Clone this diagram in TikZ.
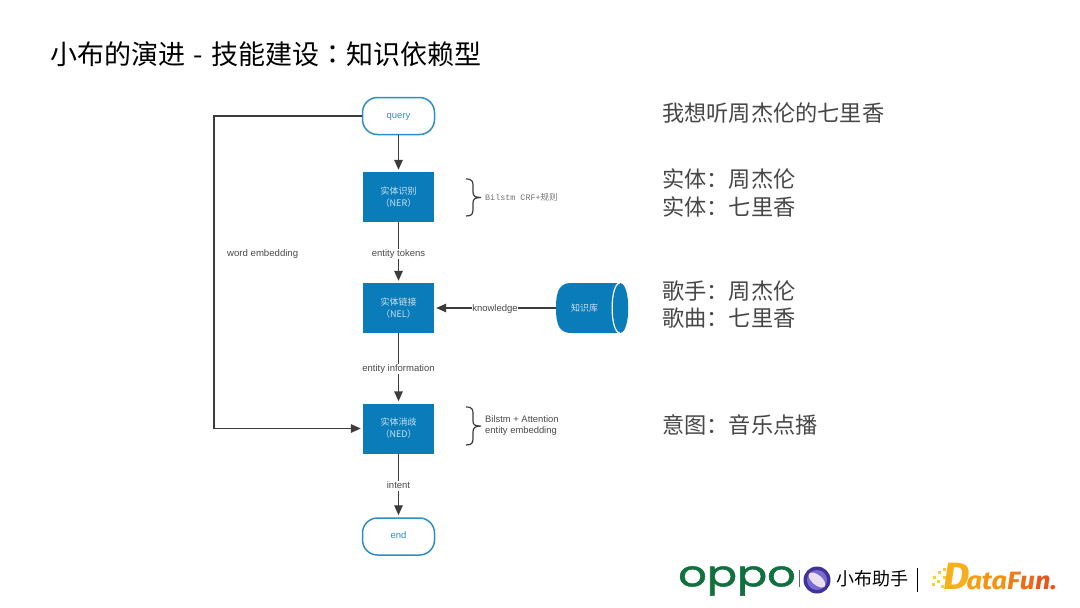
\documentclass[tikz,border=0pt]{standalone}
\usepackage{fontspec}
\setmainfont{Liberation Sans}
\newfontfamily\cjk{Noto Sans CJK SC}
\newfontfamily\cjktc{Noto Sans CJK TC}
\newfontfamily\mono{Liberation Mono}
\newfontfamily\popp[FakeBold=1.2]{Poppins}
\newfontfamily\fira[FakeStretch=1.08]{Fira Sans}
\usetikzlibrary{shapes.geometric,arrows.meta,calc}
\definecolor{bluefill}{HTML}{0A7CBA}
\definecolor{blueline}{HTML}{2E8FC4}
\definecolor{inkline}{HTML}{3C3C3C}
\definecolor{labelgray}{HTML}{4A4A4A}
\definecolor{opgreen}{HTML}{12703F}
\definecolor{xbdark}{HTML}{40329A}
\definecolor{xbmid}{HTML}{7A6BD0}
\definecolor{xbpale}{HTML}{EBDDF2}
\definecolor{dfa}{HTML}{F6B01E}
\definecolor{dfb}{HTML}{F5A011}
\definecolor{dfc}{HTML}{F39312}
\definecolor{dfd}{HTML}{EF7C1C}
\definecolor{dfe}{HTML}{EC6A1E}
\definecolor{dff}{HTML}{E8551F}
\definecolor{dfdot}{HTML}{F8CF3A}
\tikzset{
  x=1pt,y=-1pt,
  terminal/.style={draw=blueline,line width=1.5pt,fill=white,rounded corners=15pt,minimum width=72pt,minimum height=37pt,inner sep=0pt,text=blueline,text height=6.5pt,text depth=2pt,font=\fontsize{9.5}{10}\selectfont},
  process/.style={fill=bluefill,minimum width=71pt,minimum height=50pt,inner sep=0pt,align=center,text=white!78!bluefill,font=\fontsize{9}{12}\selectfont\cjk},
  flow/.style={draw=inkline,line width=1.4pt,-{Triangle[length=10pt,width=8.5pt]},shorten >=2pt},
  flowlabel/.style={fill=white,inner sep=1.5pt,text=labelgray,text height=6pt,text depth=1pt,yshift=-1pt,font=\fontsize{9.5}{10}\selectfont},
  side/.style={text=labelgray,inner sep=0pt,anchor=west,align=left},
  bigtext/.style={text=black!72,inner sep=0pt,anchor=west,font=\fontsize{22.2}{27}\selectfont\cjk},
  bracepath/.style={draw=inkline,line width=1.2pt},
}
\begin{document}
\begin{tikzpicture}
\useasboundingbox (0,0) rectangle (1080,608);
\fill[white] (0,0) rectangle (1080,608);

\node[anchor=west,inner sep=0pt,font=\fontsize{27}{28}\selectfont\cjk] (title) at (50,54) {小布的演进\hspace{8pt}-\hspace{9pt}技能建设{\cjktc ：}知识依赖型};

\node[terminal] (query) at (398.5,116) {query};
\node[process] (ner) at (398.5,197) {实体识别\\（NER）};
\node[process] (nel) at (398.5,308) {实体链接\\（NEL）};
\node[process] (ned) at (398.5,428.5) {实体消歧\\（NED）};
\node[terminal] (end) at (398.5,536.5) {end};

\fill[bluefill] (572,283) -- (620,283) .. controls (631,283) and (631,333) .. (620,333) -- (572,333)
  .. controls (561,333) and (556,328) .. (556,308) .. controls (556,288) and (561,283) .. (572,283) -- cycle;
\draw[white,line width=1.2pt] (620,283) .. controls (609.5,283) and (609.5,333) .. (620,333);
\node[minimum width=72pt,minimum height=50pt,inner sep=0pt] (kb) at (592,308) {};
\node[text=white!78!bluefill,inner sep=0pt,font=\fontsize{9}{10}\selectfont\cjk] (kbl) at (584.5,308) {知识库};

\draw[flow] (query) -- (ner);
\draw[flow] (ner) -- node[flowlabel] (l1) {entity tokens} (nel);
\draw[flow] (nel) -- node[flowlabel] (l2) {entity information} (ned);
\draw[flow] (ned) -- node[flowlabel] (l3) {intent} (end);
\draw[flow] (kb.west) -- node[flowlabel,inner xsep=0.5pt] (l4) {knowledge} (nel.east);
\coordinate (lefttop) at (214,116);
\coordinate (leftbot) at (214,428.5);
\draw[flow] (query.west) -- (lefttop) -- (leftbot) -- (ned.west);
\node[side,font=\fontsize{9.6}{10}\selectfont] (we) at (227,254) {word embedding};

\draw[bracepath] (466,179) .. controls (473,179) and (473,182) .. (473,187) -- (473,192)
  .. controls (473,196) and (475,197.5) .. (481,197.5)
  .. controls (475,197.5) and (473,199) .. (473,203) -- (473,209)
  .. controls (473,214) and (472,216) .. (466,216);
\node[side,font=\fontsize{8.4}{10}\selectfont\mono,text=black!55] (t1) at (485,197) {Bilstm CRF+{\cjk 规则}};

\draw[bracepath] (466,407) .. controls (473,407) and (473,410) .. (473,415) -- (473,421)
  .. controls (473,425) and (475,426) .. (481,426)
  .. controls (475,426) and (473,428) .. (473,432) -- (473,438)
  .. controls (473,443) and (472,445) .. (466,445);
\node[side,font=\fontsize{9.4}{11.5}\selectfont] (t2) at (485,425.5) {Bilstm + Attention\\entity embedding};

\node[bigtext] (r1) at (662,113) {我想听周杰伦的七里香};
\node[bigtext] (r2) at (662,179.5) {实体：周杰伦};
\node[bigtext] (r3) at (662,206.5) {实体：七里香};
\node[bigtext] (r4) at (662,291.5) {歌手：周杰伦};
\node[bigtext] (r5) at (662,318.5) {歌曲：七里香};
\node[bigtext] (r6) at (662,425) {意图：音乐点播};

% logos
\node[anchor=west,inner sep=0pt,text=opgreen,xscale=1.24,font=\fontsize{36}{36}\selectfont\popp] (oppo) at (678,581) {oppo};
\draw[black!60,line width=0.7pt] (799,570) -- (799,587);
\fill[xbdark] (817,580) circle (13.5);
\fill[xbmid] (817,580) circle (10);
\begin{scope}[rotate around={-40:(817,580)}]
  \fill[xbpale] (817,580) ellipse (10 and 5);
\end{scope}
\node[anchor=west,inner sep=0pt,font=\fontsize{18}{20}\selectfont\cjk] (xb) at (836,579) {小布助手};
\draw[black,line width=1pt] (917,568) -- (917,592);
\foreach \a/\b/\s in {933/576/1.4,938/571/1.6,943/568/1.3,937/580/1.6,943/576/1.6,932/583/1.3,941/585/1.6}
  \fill[dfdot] (\a,\b) rectangle +(2*\s,2*\s);
\node[anchor=base west,inner sep=0pt,font=\fontsize{25}{25}\selectfont\fira\bfseries\itshape] (df) at (943,589)
  {\textcolor{dfa}{\fontsize{38}{38}\selectfont D}\hspace{-3pt}\textcolor{dfb}{a}\textcolor{dfc}{ta}\textcolor{dfd}{F}\textcolor{dfe}{u}\textcolor{dff}{n.}};
\end{tikzpicture}
\end{document}
